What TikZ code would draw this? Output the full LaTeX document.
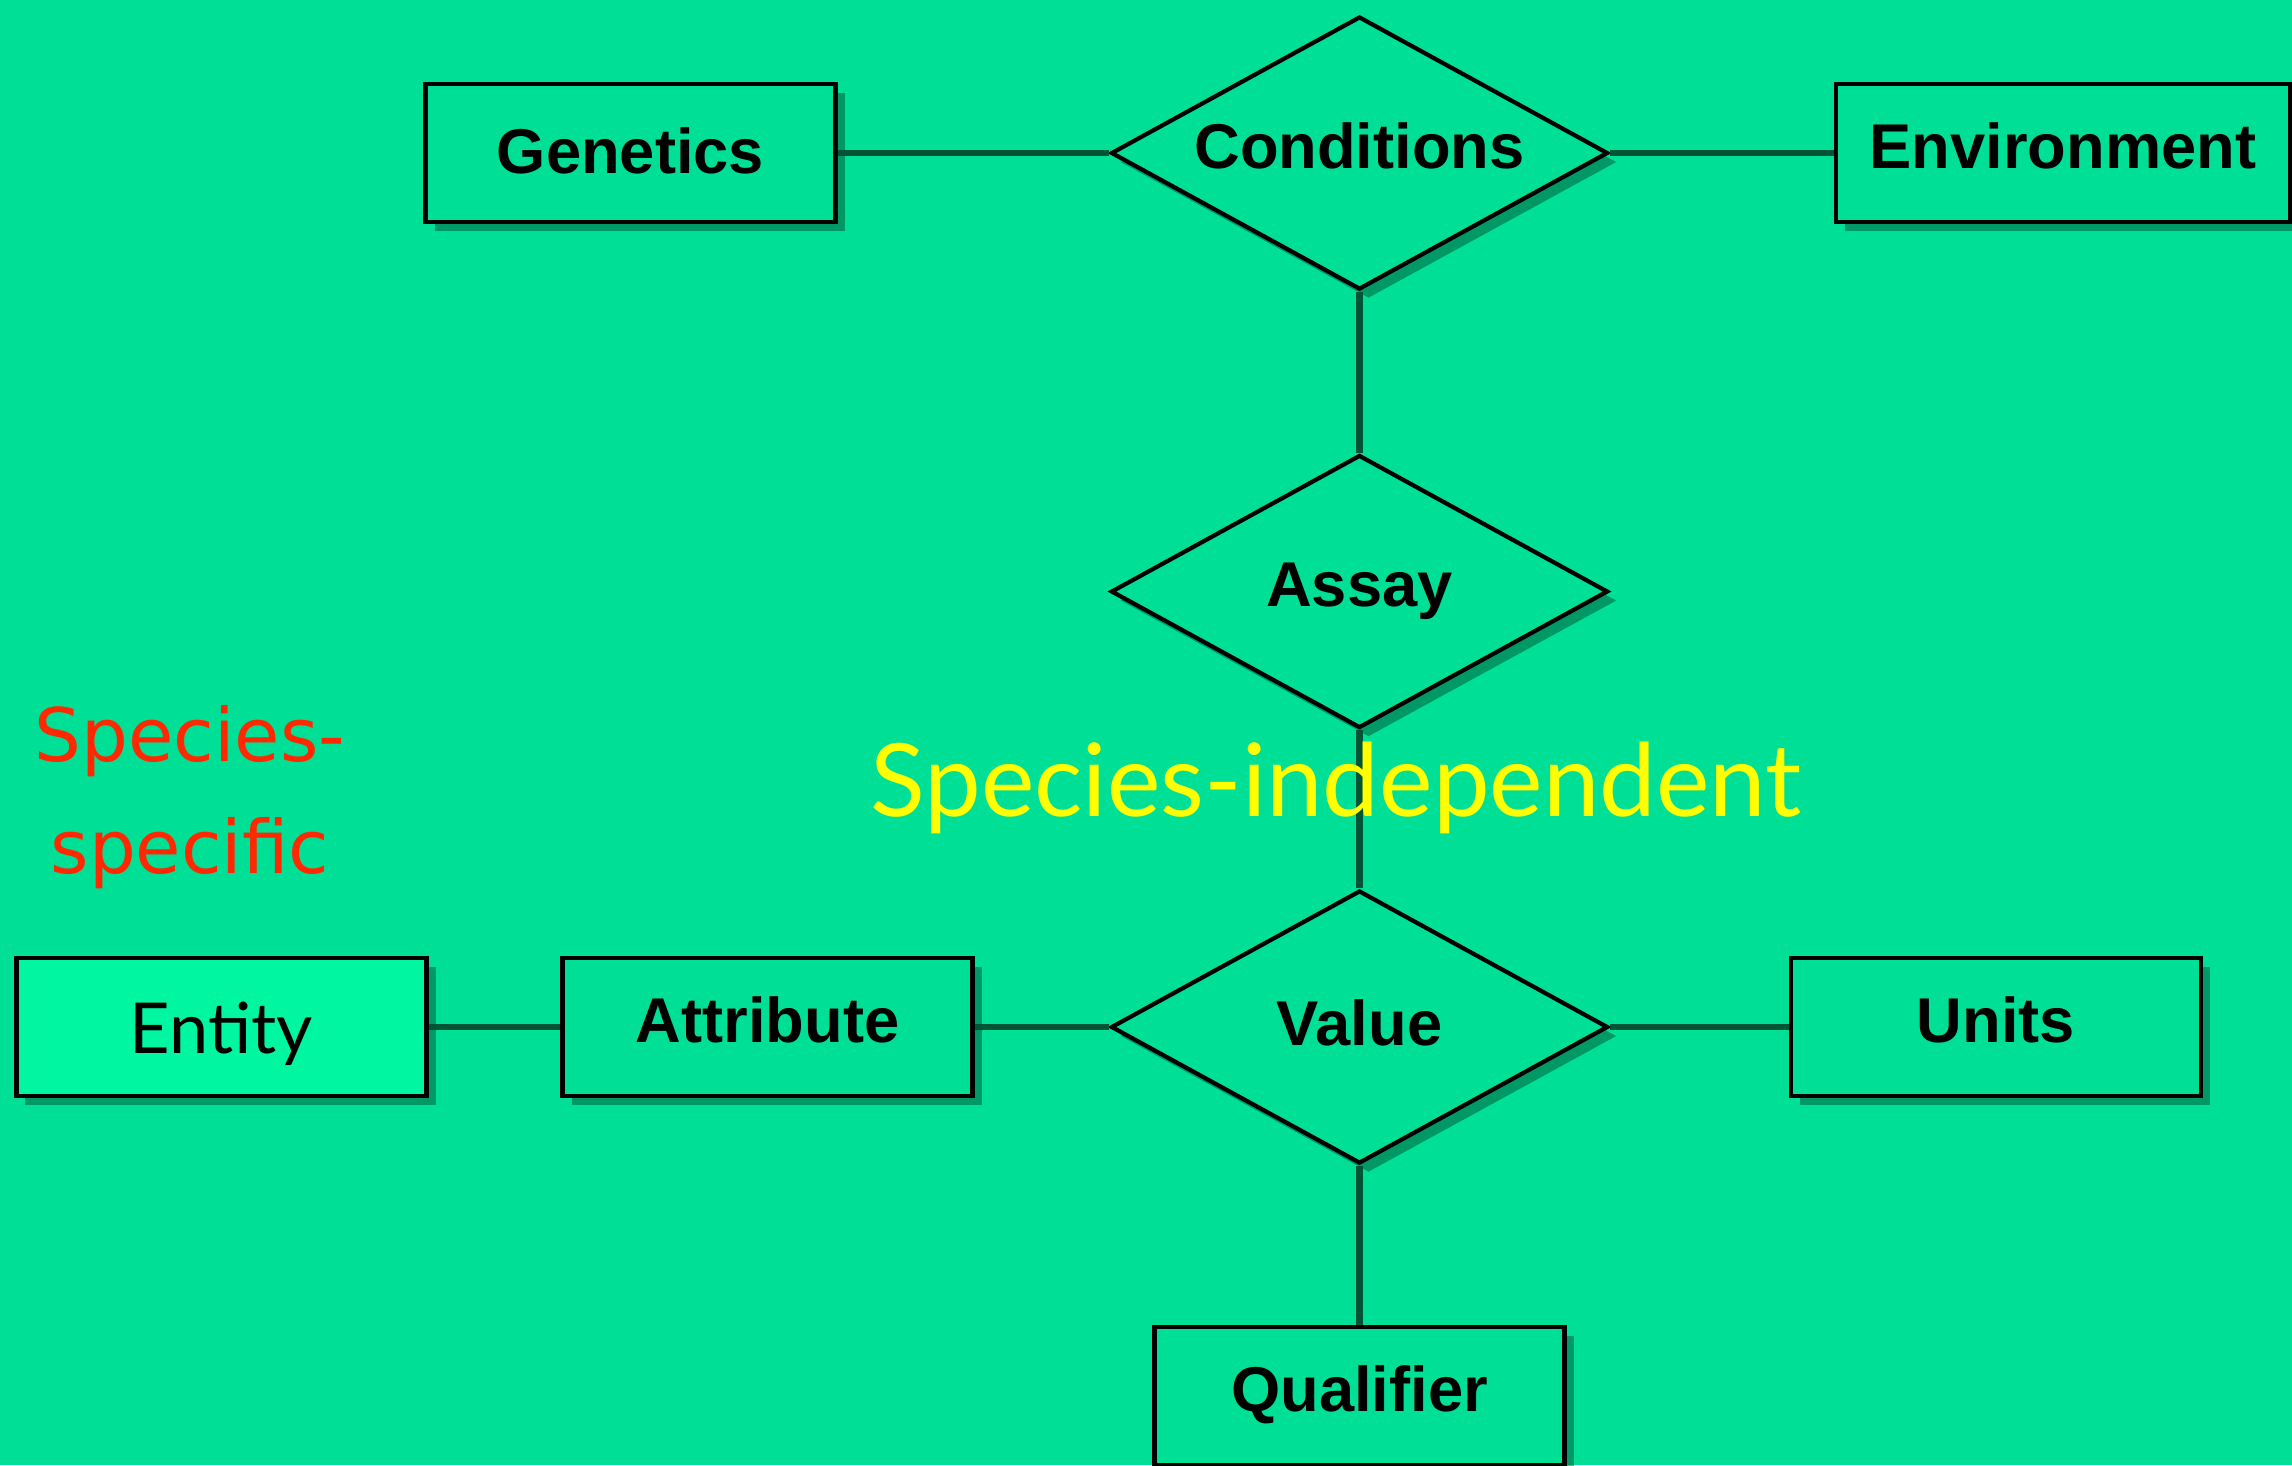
\documentclass[tikz,border=0pt]{standalone}
\usepackage{fontspec}
\setmainfont{Liberation Sans}
\newfontfamily\gillfont{Lato}
\newfontfamily\handfont{DejaVu Sans}
\usepackage{tikz}
\usetikzlibrary{shapes.geometric}
\usetikzlibrary{shadows}

\definecolor{bggreen}{RGB}{0,223,150}
\definecolor{linegreen}{RGB}{0,85,55}
\definecolor{shadowgreen}{RGB}{0,105,68}
\definecolor{entitygreen}{RGB}{0,246,160}
\definecolor{redtext}{RGB}{255,40,0}
\definecolor{yellowtext}{RGB}{255,255,0}

\begin{document}
\begin{tikzpicture}[
		box/.style={draw=black, line width=1.2pt, fill=bggreen, minimum width=4.1cm, minimum height=1.38cm, inner sep=0pt,
			font=\fontsize{18}{20}\selectfont\bfseries, text height=0.46cm, text depth=0.16cm,
			drop shadow={shadow xshift=.09cm, shadow yshift=-.09cm, fill=shadowgreen, opacity=.6}},
		rel/.style={diamond, aspect=1.82, draw=black, line width=1.2pt, fill=bggreen, minimum width=4.97cm, minimum height=2.73cm, inner sep=0pt,
			font=\fontsize{18}{20}\selectfont\bfseries, text height=0.46cm, text depth=0.16cm,
			drop shadow={shadow xshift=.09cm, shadow yshift=-.09cm, fill=shadowgreen, opacity=.6}},
		link/.style={draw=linegreen, line width=1.9pt}
	]
		\useasboundingbox (0,0) rectangle (22.92,-14.65);
		\clip (0,0) rectangle (22.92,-14.65);
		\fill[bggreen] (0,0) rectangle (22.92,-14.65);
		
		\node[box, text depth=0.05cm] (Gen) at (6.305,-1.53) {Genetics};
		\node[rel] (Cond) at (13.595,-1.53) {Conditions};
		\node[box, minimum width=4.54cm] (Env) at (20.63,-1.53) {Environment};
		\node[rel] (Assay) at (13.595,-5.915) {Assay};
		\node[rel, text depth=0.1cm] (Val) at (13.595,-10.27) {Value};
		\node[box, fill=entitygreen, font=\gillfont\fontsize{20}{22}\selectfont, text height=0.52cm, text depth=0cm] (Ent) at (2.215,-10.27) {Entity};
		\node[box] (Attr) at (7.675,-10.27) {Attribute};
		\node[box] (Units) at (19.96,-10.27) {Units};
		\node[box] (Qual) at (13.595,-13.96) {Qualifier};
		
		\draw[link] (Gen) -- (Cond);
		\draw[link] (Cond) -- (Env);
		\draw[link] (Cond) -- (Assay);
		\draw[link] (Assay) -- (Val);
		\draw[link] (Ent) -- (Attr);
		\draw[link] (Attr) -- (Val);
		\draw[link] (Val) -- (Units);
		\draw[link] (Val) -- (Qual);
		
		\node[anchor=base, text=yellowtext, font=\gillfont\fontsize{28.8}{30}\selectfont] (indep) at (13.36,-8.16) {Species-independent};
		\node[align=center, text=redtext, font=\handfont\fontsize{21}{32}\selectfont] (spec) at (1.9,-7.97) {Species-\\specific};
\end{tikzpicture}
\end{document}
